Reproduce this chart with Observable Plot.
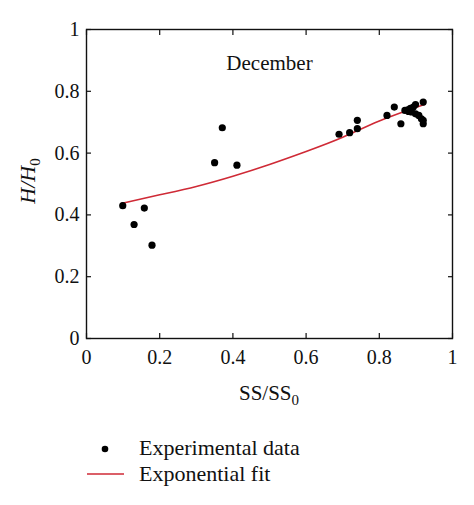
<!DOCTYPE html>
<html>
<head>
<meta charset="utf-8">
<script src="https://cdn.jsdelivr.net/npm/d3@7"></script>
<script src="https://cdn.jsdelivr.net/npm/@observablehq/plot@0.6"></script>
<style>
  body { margin: 0; background: #fff; }
  #chart svg { font-family: "Liberation Serif", serif; }
</style>
</head>
<body>
<div id="chart"></div>
<script>
// experimental points
const ssRatio = [0.099, 0.130, 0.158, 0.179, 0.350, 0.371, 0.411, 0.690, 0.719, 0.740, 0.740,
  0.821, 0.841, 0.859, 0.870, 0.878, 0.880, 0.885, 0.888, 0.893, 0.899, 0.899, 0.908, 0.915, 0.920, 0.920, 0.920];
const hRatio = [0.430, 0.369, 0.422, 0.302, 0.569, 0.682, 0.561, 0.661, 0.666, 0.679, 0.706,
  0.722, 0.749, 0.695, 0.738, 0.740, 0.735, 0.745, 0.733, 0.749, 0.757, 0.727, 0.722, 0.711, 0.765, 0.706, 0.695];

// exponential fit curve
const fitX = [0.095, 0.2, 0.3, 0.4, 0.5, 0.6, 0.7, 0.8, 0.925];
const fitY = [0.437, 0.465, 0.492, 0.525, 0.563, 0.605, 0.651, 0.704, 0.758];

const xTicks = [0, 0.2, 0.4, 0.6, 0.8, 1];
const yTicks = [0, 0.2, 0.4, 0.6, 0.8, 1];
const monthLabel = "December";
const legendLabels = ["Experimental data", "Exponential fit"];

const red = "#cf2a36";
const fmt = d => String(d);
const tk = 5; // inward tick length

const points = ssRatio.map((x, i) => ({x, y: hRatio[i]}));
const fit = fitX.map((x, i) => ({x, y: fitY[i]}));

const chart = Plot.plot({
  width: 474,
  height: 505,
  marginLeft: 86,
  marginRight: 22,
  marginTop: 29,
  marginBottom: 167,
  style: {fontFamily: "Liberation Serif, serif", fontSize: "20px", color: "#111", background: "#fff"},
  x: {domain: [0, 1], label: null},
  y: {domain: [0, 1], label: null},
  marks: [
    // labels
    Plot.axisX(xTicks, {anchor: "bottom", tickSize: 0, tickPadding: 11, tickFormat: fmt, label: null, fontSize: 20}),
    Plot.axisY(yTicks, {anchor: "left", tickSize: 0, tickPadding: 7, tickFormat: fmt, label: null, fontSize: 20}),
    // inward ticks on all four sides
    Plot.axisX(xTicks, {anchor: "bottom", tickSize: tk, dy: -tk, text: null, label: null, strokeWidth: 1.2}),
    Plot.axisX(xTicks, {anchor: "top", tickSize: tk, dy: tk, text: null, label: null, strokeWidth: 1.2}),
    Plot.axisY(yTicks, {anchor: "left", tickSize: tk, dx: tk, text: null, label: null, strokeWidth: 1.2}),
    Plot.axisY(yTicks, {anchor: "right", tickSize: tk, dx: -tk, text: null, label: null, strokeWidth: 1.2}),
    Plot.frame({stroke: "#111", strokeWidth: 1.4}),
    Plot.line(fit, {x: "x", y: "y", stroke: red, strokeWidth: 1.6, curve: "natural"}),
    Plot.dot(points, {x: "x", y: "y", r: 3.6, fill: "#000"}),
    Plot.text([monthLabel], {frameAnchor: "top", dy: 26, text: d => d, fontSize: 21, fill: "#111"})
  ]
});

const svg = d3.select(chart);

// axis titles with subscripts
const xt = svg.append("text")
  .attr("x", 269).attr("y", 400)
  .attr("text-anchor", "middle")
  .attr("font-size", 21).attr("fill", "#111")
  .text("SS/SS");
xt.append("tspan").attr("font-size", 15).attr("dy", 5).text("0");

const yt = svg.append("text")
  .attr("transform", "translate(35,181) rotate(-90)")
  .attr("text-anchor", "middle")
  .attr("font-size", 22).attr("fill", "#111");
yt.append("tspan").attr("font-style", "italic").text("H/H");
yt.append("tspan").attr("font-size", 15).attr("dy", 5).text("0");

// legend
const lg = svg.append("g").attr("font-size", 22).attr("fill", "#111").attr("text-anchor", "start");
lg.append("circle").attr("cx", 105).attr("cy", 449).attr("r", 3.3).attr("fill", "#000");
lg.append("text").attr("x", 139).attr("y", 455).text(legendLabels[0]);
lg.append("line").attr("x1", 87).attr("x2", 124).attr("y1", 474).attr("y2", 474)
  .attr("stroke", red).attr("stroke-width", 1.6);
lg.append("text").attr("x", 139).attr("y", 481).text(legendLabels[1]);

document.getElementById("chart").append(chart);
</script>
</body>
</html>
